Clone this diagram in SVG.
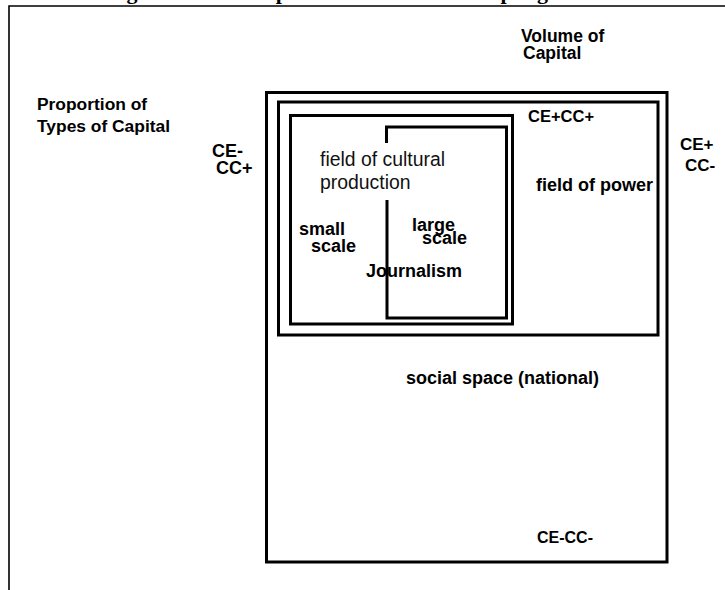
<svg xmlns="http://www.w3.org/2000/svg" width="725" height="590" viewBox="0 0 725 590">
<style>
.b{font-family:"Liberation Sans",Arial,sans-serif;font-weight:bold;font-size:18px;fill:#000}
.s{font-size:16px}
.r{font-family:"Liberation Sans",Arial,sans-serif;font-size:19.4px;fill:#111}
.t{font-family:"Liberation Serif","Times New Roman",serif;font-weight:bold;font-size:22px;fill:#000}
.box{fill:none;stroke:#000;stroke-width:3}
</style>
<rect width="725" height="590" fill="#fff"/>
<g id="title"><text class="t" y="-1"><tspan x="107">Figure 1: The</tspan><tspan x="244">Map of the Field</tspan><tspan x="459" letter-spacing="2">Shaping</tspan></text></g>
<g id="frame"><path d="M9,590 V6 H725" fill="none" stroke="#000" stroke-width="1.6"/></g>
<g id="axis-labels">
<text class="b" x="521" y="42" style="font-size:17.5px">Volume of</text>
<text class="b" x="523" y="59" style="font-size:17.5px">Capital</text>
<text class="b" x="37" y="110" style="font-size:17.4px">Proportion of</text>
<text class="b" x="37" y="132" style="font-size:17.4px">Types of Capital</text>
<text class="b" x="212" y="157">CE-</text>
<text class="b" x="216" y="174">CC+</text>
<text class="b" x="680" y="150" style="font-size:17px">CE+</text>
<text class="b" x="685" y="171" style="font-size:17px">CC-</text>
</g>
<g id="social-space">
<rect class="box" x="266.5" y="92.5" width="400.5" height="469.5" stroke-width="2.4"/>
<text class="b" x="406" y="384">social space (national)</text>
<text class="b s" x="537" y="543">CE-CC-</text>
</g>
<g id="field-of-power">
<rect class="box" x="278.5" y="102" width="379.5" height="233"/>
<text class="b" x="528" y="122" style="font-size:16.5px">CE+CC+</text>
<text class="b" x="536" y="191">field of power</text>
</g>
<g id="field-of-cultural-production">
<rect class="box" x="290.5" y="115.5" width="222" height="208.5"/>
<text class="r" x="320" y="166">field of cultural</text>
<text class="r" x="320" y="189">production</text>
</g>
<g id="small-scale">
<text class="b" x="299" y="235">small</text>
<text class="b" x="311" y="252">scale</text>
</g>
<g id="large-scale">
<path class="box" d="M386.5,143 V127 H506.5 V318 H387 V200"/>
<text class="b" x="412" y="231">large</text>
<text class="b" x="422" y="244">scale</text>
</g>
<g id="journalism">
<text class="b" x="366" y="277">Journalism</text>
</g>
<g id="connectors"></g>
</svg>
